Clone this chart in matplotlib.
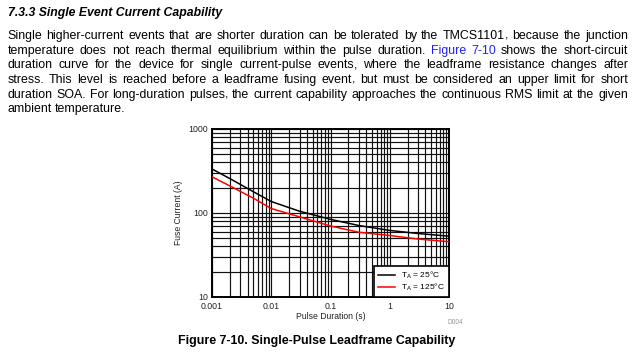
import matplotlib
matplotlib.use('Agg')
import matplotlib.pyplot as plt
from matplotlib.ticker import LogLocator, NullFormatter

plt.rcParams['font.family'] = ['Liberation Sans', 'DejaVu Sans']
plt.rcParams['mathtext.default'] = 'regular'

# curve data
duration = [0.001, 0.002, 0.005, 0.01, 0.03, 0.1, 0.3, 1, 3, 10]
current_25c = [334, 257, 179, 137, 105, 84, 71, 62, 57, 53]
current_125c = [270, 210, 150, 113, 90, 70, 59, 54, 49, 45.5]

x_ticks = [0.001, 0.01, 0.1, 1, 10]
x_ticklabels = ['0.001', '0.01', '0.1', '1', '10']
y_ticks = [10, 100, 1000]
y_ticklabels = ['10', '100', '1000']

heading = '7.3.3 Single Event Current Capability'
body_lines = [
    'Single higher-current events that are shorter duration can be tolerated by the TMCS1101, because the junction',
    'temperature does not reach thermal equilibrium within the pulse duration. [Figure 7-10] shows the short-circuit',
    'duration curve for the device for single current-pulse events, where the leadframe resistance changes after',
    'stress. This level is reached before a leadframe fusing event, but must be considered an upper limit for short',
    'duration SOA. For long-duration pulses, the current capability approaches the continuous RMS limit at the given',
    'ambient temperature.',
]
caption = 'Figure 7-10. Single-Pulse Leadframe Capability'

W, H = 640, 357
fig = plt.figure(figsize=(W / 100, H / 100), dpi=100)
fig.patch.set_facecolor('white')
renderer = fig.canvas.get_renderer()

BODY_FS = 8.9
LINK = '#2020ff'


def px(x, y):
    return x / W, 1 - y / H


def text_width(s):
    probe = fig.text(0, 0, s, fontsize=BODY_FS)
    wd = probe.get_window_extent(renderer).width
    probe.remove()
    return wd


# heading
fig.text(*px(7.5, 16), heading, fontsize=8.8, fontweight='bold', fontstyle='italic',
         va='baseline', ha='left')

# justified paragraph: measure each word, then spread the spaces
left, right = 7.5, 628
baseline = 39
for i, line in enumerate(body_lines):
    tokens = []
    in_link = False
    for w in line.split(' '):
        color = 'black'
        if w.startswith('['):
            in_link = True
            w = w[1:]
        if in_link:
            color = LINK
        if w.endswith(']'):
            w = w[:-1]
            color = LINK
            in_link = False
        tokens.append((w, color))
    widths = [text_width(w) for w, c in tokens]
    if i == len(body_lines) - 1:
        gap = 2.8
    else:
        gap = max((right - left - sum(widths)) / (len(widths) - 1), 1.5)
    x = left
    for (w, c), wd in zip(tokens, widths):
        # trailing comma drawn on its own so the word keeps the baseline
        if w.endswith(','):
            fig.text(*px(x, baseline), w[:-1], fontsize=BODY_FS, color=c,
                     va='baseline', ha='left')
            fig.text(*px(x + text_width(w[:-1]), baseline), ',', fontsize=BODY_FS,
                     color=c, va='baseline', ha='left')
        else:
            fig.text(*px(x, baseline), w, fontsize=BODY_FS, color=c,
                     va='baseline', ha='left')
        x += wd + gap
    baseline += 14.65

# chart
ax = fig.add_axes([212 / W, 1 - 297 / H, (449 - 212) / W, (297 - 129) / H])
ax.set_xscale('log')
ax.set_yscale('log')
ax.plot(duration, current_25c, color='black', lw=1.1, label=r'T$_{A}$ = 25°C', zorder=3)
ax.plot(duration, current_125c, color='#ff0000', lw=1.1, label=r'T$_{A}$ = 125°C', zorder=3)
ax.set_xlim(0.001, 10)
ax.set_ylim(10, 1000)
ax.xaxis.set_minor_locator(LogLocator(base=10, subs=range(2, 10)))
ax.yaxis.set_minor_locator(LogLocator(base=10, subs=range(2, 10)))
ax.xaxis.set_minor_formatter(NullFormatter())
ax.yaxis.set_minor_formatter(NullFormatter())
ax.set_xticks(x_ticks)
ax.set_xticklabels(x_ticklabels)
ax.set_yticks(y_ticks)
ax.set_yticklabels(y_ticklabels)
ax.grid(True, which='both', color='#111111', lw=0.85)
ax.tick_params(which='both', length=0, labelsize=6.3, colors='#222222')
ax.tick_params(axis='x', pad=3.5)
ax.tick_params(axis='y', pad=3)
for s in ax.spines.values():
    s.set_linewidth(1.4)
ax.set_xlabel('Pulse Duration (s)', fontsize=6.2, labelpad=0.5, color='#222222')
ax.set_ylabel('Fuse Current (A)', fontsize=6.2, labelpad=4, color='#222222')

leg = ax.legend(loc='lower right', fontsize=6.0, frameon=True, fancybox=False,
                borderaxespad=0, handlelength=2.0, handletextpad=0.8,
                borderpad=0.45, labelspacing=0.15)
leg.get_frame().set_edgecolor('black')
leg.get_frame().set_linewidth(1.2)
leg.get_frame().set_alpha(1)

fig.text(*px(455, 324), 'D004', fontsize=4.8, color='#999999', ha='center', va='baseline')
fig.text(*px(317, 344), caption, fontsize=8.9, fontweight='bold', ha='center', va='baseline')

fig.savefig('out.png', dpi=100)
